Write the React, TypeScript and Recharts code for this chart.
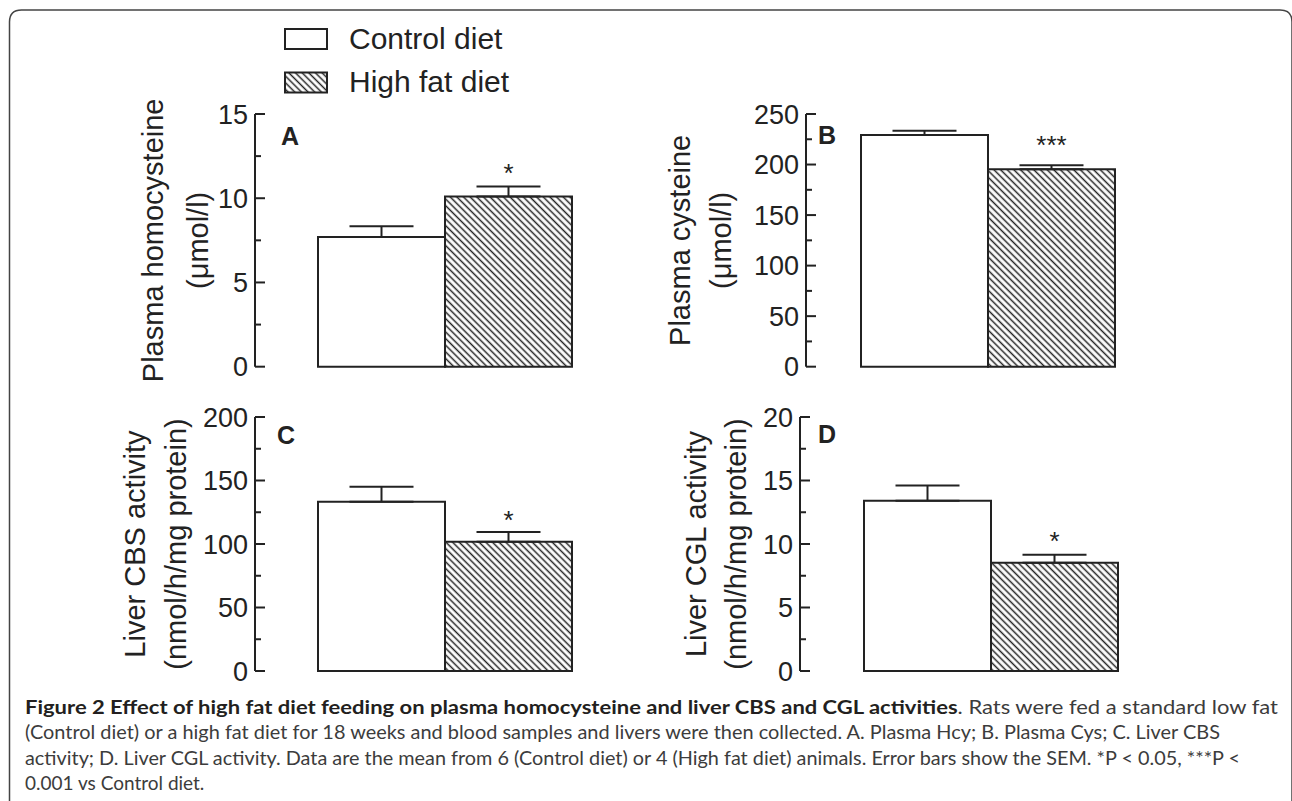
import { BarChart, Bar, XAxis, YAxis, ErrorBar } from 'recharts';

// groups shown in every panel
const groups = ['Control diet', 'High fat diet'];

// A. plasma homocysteine (µmol/l)
const hcyMean = [7.7, 10.1];
const hcySem = [0.63, 0.6];
const hcyTicks = [0, 5, 10, 15];
const hcyMinor = [2.5, 7.5, 12.5];

// B. plasma cysteine (µmol/l)
const cysMean = [229.2, 195.3];
const cysSem = [4.3, 3.9];
const cysTicks = [0, 50, 100, 150, 200, 250];
const cysMinor = [25, 75, 125, 175, 225];

// C. liver CBS activity
const cbsMean = [133.3, 101.8];
const cbsSem = [11.8, 7.6];
const cbsTicks = [0, 50, 100, 150, 200];
const cbsMinor = [25, 75, 125, 175];

// D. liver CGL activity
const cglMean = [13.4, 8.53];
const cglSem = [1.2, 0.63];
const cglTicks = [0, 5, 10, 15, 20];
const cglMinor = [2.5, 7.5, 12.5, 17.5];

const panelLetters = ['A', 'B', 'C', 'D'];
const stars = ['*', '***', '*', '*'];
const titleLines = [
  ['Plasma homocysteine', '(μmol/l)'],
  ['Plasma cysteine', '(μmol/l)'],
  ['Liver CBS activity', '(nmol/h/mg protein)'],
  ['Liver CGL activity', '(nmol/h/mg protein)'],
];

const captionBold = 'Figure 2 Effect of high fat diet feeding on plasma homocysteine and liver CBS and CGL activities';
const captionLines = [
  '. Rats were fed a standard low fat',
  '(Control diet) or a high fat diet for 18 weeks and blood samples and livers were then collected. A. Plasma Hcy; B. Plasma Cys; C. Liver CBS',
  'activity; D. Liver CGL activity. Data are the mean from 6 (Control diet) or 4 (High fat diet) animals. Error bars show the SEM. *P < 0.05, ***P <',
  '0.001 vs Control diet.',
];

const INK = '#222';
const FONT = "'Liberation Sans', Arial, sans-serif";

// page geometry of each plot area
const layout = [
  { left: 255, right: 640, top: 114, bottom: 366.7, padL: 0, padR: 5, t1: 153, t2: 198, lx: 281, ly: 145, starGap: 4 },
  { left: 806, right: 1178, top: 114, bottom: 366.7, padL: 0, padR: 9, t1: 680, t2: 721, lx: 818, ly: 144, starGap: 11 },
  { left: 255, right: 640, top: 417, bottom: 671, padL: 0, padR: 5, t1: 135, t2: 176, lx: 277, ly: 444, starGap: 3 },
  { left: 800, right: 1178, top: 417, bottom: 671, padL: 3, padR: 0, t1: 696, t2: 736, lx: 818, ly: 443, starGap: 5 },
];

function AxisTick(props: any) {
  const { x, y, payload, major } = props;
  const v = payload.value;
  const isMajor = major.includes(v);
  const ax = x + 7;
  return (
    <g>
      <line x1={ax} x2={ax + (isMajor ? 10 : 6)} y1={y} y2={y} stroke={INK} strokeWidth={2} />
      {isMajor && (
        <text x={x} y={y} dy="0.36em" textAnchor="end" fontSize={27} fill={INK} fontFamily={FONT}>
          {v}
        </text>
      )}
    </g>
  );
}

function Panel({ i, mean, sem, major, minor }: { i: number; mean: number[]; sem: number[]; major: number[]; minor: number[] }) {
  const L = layout[i];
  const axisW = 64;
  const mTop = 40;
  const mBot = 24;
  const mRight = 6;
  const plotH = L.bottom - L.top;
  const w = axisW + (L.right - L.left) + mRight;
  const h = mTop + plotH + mBot;
  const yMax = major[major.length - 1];
  const data = [{ name: 'g', control: mean[0], hf: mean[1], controlErr: [0, sem[0]], hfErr: [0, sem[1]] }];
  const allTicks = [...major, ...minor].sort((a, b) => a - b);

  const starLabel = (p: any) => {
    const bx = p.viewBox?.x ?? p.x;
    const by = p.viewBox?.y ?? p.y;
    const bw = p.viewBox?.width ?? p.width;
    return (
      <text x={bx + bw / 2} y={by - (sem[1] * plotH) / yMax - L.starGap} textAnchor="middle" fontSize={26} fill={INK} fontFamily={FONT}>
        {stars[i]}
      </text>
    );
  };

  return (
    <div style={{ position: 'absolute', left: L.left - axisW, top: L.top - mTop }}>
      <BarChart width={w} height={h} data={data} margin={{ top: mTop, right: mRight, bottom: mBot, left: 0 }} barGap={0} barCategoryGap={0}>
        <XAxis
          dataKey="name"
          tick={false}
          tickLine={false}
          height={0}
          axisLine={{ stroke: INK, strokeWidth: 2 }}
          padding={{ left: L.padL, right: L.padR }}
        />
        <YAxis
          type="number"
          domain={[0, yMax]}
          ticks={allTicks}
          interval={0}
          width={axisW}
          tickSize={0}
          tickMargin={7}
          tickLine={false}
          axisLine={{ stroke: INK, strokeWidth: 2 }}
          tick={(p: any) => <AxisTick {...p} major={major} />}
        />
        <Bar dataKey="control" name={groups[0]} barSize={127} fill="#fff" stroke={INK} strokeWidth={2} isAnimationActive={false}>
          <ErrorBar dataKey="controlErr" direction="y" width={32} stroke={INK} strokeWidth={2} isAnimationActive={false} />
        </Bar>
        <Bar dataKey="hf" name={groups[1]} barSize={127} fill="url(#hatch)" stroke={INK} strokeWidth={2} isAnimationActive={false} label={starLabel}>
          <ErrorBar dataKey="hfErr" direction="y" width={32} stroke={INK} strokeWidth={2} isAnimationActive={false} />
        </Bar>
      </BarChart>
    </div>
  );
}

export default function App() {
  const panels = [
    { mean: hcyMean, sem: hcySem, major: hcyTicks, minor: hcyMinor },
    { mean: cysMean, sem: cysSem, major: cysTicks, minor: cysMinor },
    { mean: cbsMean, sem: cbsSem, major: cbsTicks, minor: cbsMinor },
    { mean: cglMean, sem: cglSem, major: cglTicks, minor: cglMinor },
  ];
  const capY = [713.5, 739, 764.5, 790];
  const capLen = [1253, 1195, 1215];

  return (
    <div style={{ position: 'absolute', left: 0, top: 0, width: 1292, height: 801, background: '#fff', overflow: 'hidden' }}>
      <svg width={0} height={0} style={{ position: 'absolute' }}>
        <defs>
          <pattern id="hatch" width={4.7} height={4.7} patternUnits="userSpaceOnUse" patternTransform="rotate(-45)">
            <rect width={4.7} height={4.7} fill="#fff" />
            <line x1={2.35} y1={0} x2={2.35} y2={4.7} stroke={INK} strokeWidth={1.5} />
          </pattern>
        </defs>
      </svg>

      {panels.map((p, i) => (
        <Panel key={i} i={i} {...p} />
      ))}

      <svg width={1292} height={801} style={{ position: 'absolute', left: 0, top: 0, pointerEvents: 'none' }}>
        {/* frame */}
        <path d="M9.5,801 L9.5,22 Q9.5,10 21.5,10 L1280,10 Q1292,10 1292,22 L1292,801" fill="none" stroke="#444" strokeWidth={1.5} />

        {/* legend */}
        {groups.map((g, k) => (
          <g key={g}>
            <rect x={285} y={29 + k * 43.5} width={42} height={20} fill={k === 0 ? '#fff' : 'url(#hatch)'} stroke={INK} strokeWidth={2} />
            <text x={349} y={49 + k * 43} fontSize={30} fill={INK} fontFamily={FONT}>
              {g}
            </text>
          </g>
        ))}

        {/* panel letters and axis titles */}
        {layout.map((L, i) => {
          const cy = (L.top + L.bottom) / 2;
          return (
            <g key={i} fontFamily={FONT} fill={INK}>
              <text x={L.lx} y={L.ly} fontSize={25} fontWeight="bold">
                {panelLetters[i]}
              </text>
              <text x={L.t1} y={cy} fontSize={29} textAnchor="middle" dominantBaseline="central" transform={`rotate(-90 ${L.t1} ${cy})`}>
                {titleLines[i][0]}
              </text>
              <text x={L.t2} y={cy} fontSize={29} textAnchor="middle" dominantBaseline="central" transform={`rotate(-90 ${L.t2} ${cy})`}>
                {titleLines[i][1]}
              </text>
            </g>
          );
        })}

        {/* caption */}
        <g fontFamily="Lato, 'Open Sans', sans-serif" fontSize={19}>
          <text x={25} y={capY[0]} textLength={capLen[0]} lengthAdjust="spacingAndGlyphs">
            <tspan fontWeight="bold" fill="#231f20">{captionBold}</tspan>
            <tspan fill="#3c3c3c">{captionLines[0]}</tspan>
          </text>
          <text x={25} y={capY[1]} fill="#3c3c3c" textLength={capLen[1]} lengthAdjust="spacingAndGlyphs">
            {captionLines[1]}
          </text>
          <text x={25} y={capY[2]} fill="#3c3c3c" textLength={capLen[2]} lengthAdjust="spacingAndGlyphs">
            {captionLines[2]}
          </text>
          <text x={25} y={capY[3]} fill="#3c3c3c">
            {captionLines[3]}
          </text>
        </g>
      </svg>
    </div>
  );
}
